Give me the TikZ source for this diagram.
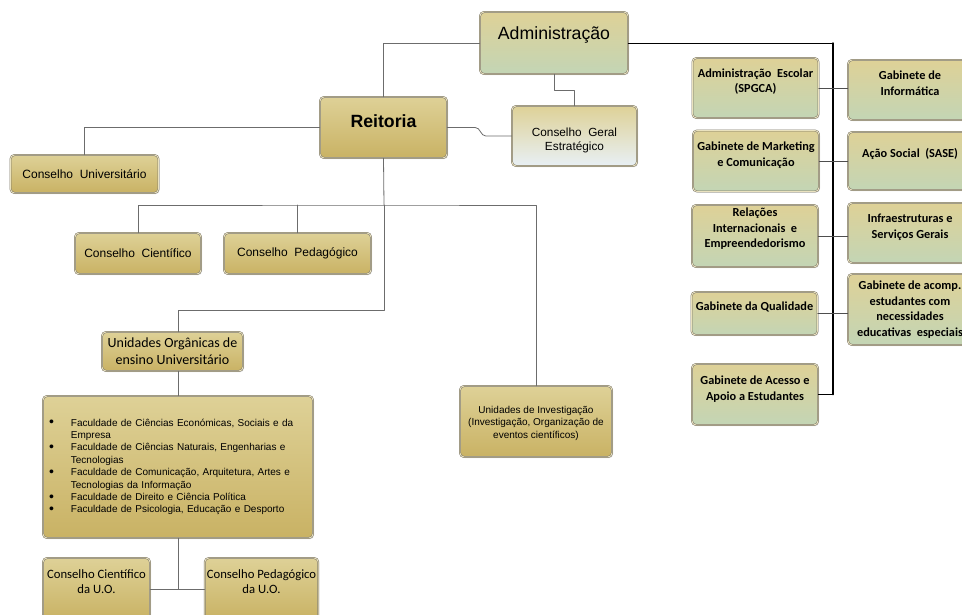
\documentclass[tikz,border=0pt]{standalone}
\usepackage{fontspec}
\setmainfont{Liberation Sans}
\newfontfamily\carlito{Carlito}
\usetikzlibrary{calc, positioning, shadows}

\definecolor{tantop}{HTML}{DED197}
\definecolor{tanbot}{HTML}{C9B264}
\definecolor{greenbot}{HTML}{C3D5B5}
\definecolor{bluebot}{HTML}{E8F0F5}
\definecolor{boxedge}{HTML}{7C7767}
\definecolor{boxgap}{HTML}{EAE2BF}
\definecolor{linkgray}{HTML}{6C6C6C}
\definecolor{servgray}{HTML}{4E4E4E}
\newcommand{\dotitem}{\raisebox{-0.8pt}{\fontsize{14}{12}\selectfont\textbullet}}

\begin{document}
\begin{tikzpicture}[line cap=round, line join=round, x=1pt, y=-1pt,
  orgbox/.style={rounded corners=4pt, draw=boxedge, double=boxgap, double distance=0.9pt,
    line width=0.5pt, top color=tantop, bottom color=tanbot, inner sep=2pt, align=center,
    drop shadow={shadow xshift=1pt, shadow yshift=-1.2pt, opacity=0.25}},
  adminbox/.style={orgbox, bottom color=greenbot},
  geralbox/.style={orgbox, bottom color=bluebot},
  servbox/.style={adminbox, minimum width=126, font=\carlito\bfseries\fontsize{12.3}{15.5}\selectfont},
  link/.style={draw=linkgray, line width=0.8pt},
  servlink/.style={draw=servgray, line width=0.9pt},
  adminlink/.style={draw=black, line width=1pt}]
\useasboundingbox (0,0) rectangle (962,614);

% Top of the chart
\node[adminbox, minimum width=148, minimum height=62, text depth=20pt,
  font=\fontsize{17.7}{20}\selectfont] (admin) at (554,43) {Administração};
\node[orgbox, minimum width=127, minimum height=61, text depth=12pt,
  font=\bfseries\fontsize{17.7}{20}\selectfont] (reitoria) at (383.5,127.5) {Reitoria};
\node[geralbox, minimum width=125, minimum height=60, text height=31pt,
  font=\fontsize{11.8}{14}\selectfont] (geral) at (574.5,136) {Conselho\ \ Geral\\Estratégico};

% Councils
\node[orgbox, minimum width=148, minimum height=38, font=\fontsize{12}{14}\selectfont]
  (univ) at (84.5,174) {Conselho\ \ Universitário};
\node[orgbox, minimum width=126, minimum height=41, font=\fontsize{12}{14}\selectfont]
  (cient) at (138,253.5) {Conselho\ \ Científico};
\node[orgbox, minimum width=147, minimum height=41, font=\fontsize{12}{14}\selectfont]
  (pedag) at (297.5,253.5) {Conselho\ \ Pedagógico};

% Teaching units
\node[orgbox, minimum width=141, minimum height=39, font=\carlito\fontsize{14}{17}\selectfont]
  (organicas) at (172.5,351.5) {Unidades Orgânicas de\\ensino Universitário};
\node[orgbox, minimum width=270, minimum height=142, text width=258, align=left,
  font=\fontsize{10}{12.4}\selectfont] (faculdades) at (178,467) {%
  \begin{tabular}{@{}l@{\hspace{17pt}}l@{}}
  \dotitem & Faculdade de Ciências Económicas, Sociais e da\\
           & Empresa\\
  \dotitem & Faculdade de Ciências Naturais, Engenharias e\\
           & Tecnologias\\
  \dotitem & Faculdade de Comunicação,\ Arquitetura, Artes e\\
           & Tecnologias da Informação\\
  \dotitem & Faculdade de Direito e Ciência Política\\
  \dotitem & Faculdade de Psicologia, Educação e Desporto
  \end{tabular}};
\node[orgbox, minimum width=107, minimum height=62, text depth=14pt,
  font=\carlito\fontsize{12.7}{15}\selectfont] (cientuo) at (96.5,589) {Conselho Científico\\da U.O.};
\node[orgbox, minimum width=112, minimum height=62, text depth=14pt,
  font=\carlito\fontsize{12.7}{15}\selectfont] (pedaguo) at (261.5,589) {Conselho Pedagógico\\da U.O.};
\node[orgbox, minimum width=152, minimum height=71, text height=36pt, font=\fontsize{10}{12.5}\selectfont]
  (investig) at (536,421.5) {Unidades de Investigação\\(Investigação, Organização de\\eventos científicos)};

% Services
\node[servbox, minimum height=60, text depth=15pt] (spgca) at (755.5,88) {Administração\ \ Escolar\\(SPGCA)};
\node[servbox, minimum height=61, text depth=14pt] (marketing) at (756,161) {Gabinete de Marketing\\e Comunicação};
\node[servbox, minimum height=62, text depth=16pt] (relacoes) at (755,236) {Relações\\Internacionais\ \ e\\Empreendedorismo};
\node[servbox, minimum height=43, text depth=15pt] (qualidade) at (754.5,313.5) {Gabinete da Qualidade};
\node[servbox, minimum height=61, text depth=13pt] (acesso) at (755,394.5) {Gabinete de Acesso e\\Apoio a Estudantes};
\node[servbox, minimum width=124, minimum height=60, text depth=14pt] (informatica) at (910,90) {Gabinete de\\Informática};
\node[servbox, minimum width=124, minimum height=58, text depth=17pt] (acao) at (910,161) {Ação Social\ \ (SASE)};
\node[servbox, minimum width=124, minimum height=60, text depth=14pt] (infra) at (910,233) {Infraestruturas e\\Serviços Gerais};
\node[servbox, minimum width=124, minimum height=71] (acomp) at (910,309.5) {Gabinete de acomp.\\estudantes com\\necessidades\\educativas\ \ especiais};

% Connectors
\coordinate (hub) at (384,205);
\coordinate (elbow) at (384,310);
\coordinate (bus) at (833,43);
\draw[link] (admin.west) -| (reitoria.north);
\draw[link] (admin.south) -- ++(0,16) -| (geral.north);
\draw[link] (reitoria.east) -- ++(28,0) to[out=0,in=180] ($(geral.west)+(-26,0)$) -- (geral.west);
\draw[link] (reitoria.west) -| (univ.north);
\draw[link] (reitoria.south) -- (hub);
\draw[link] (cient.north) |- (hub) -| (investig.north);
\draw[link] (pedag.north) -- (pedag.north |- hub);
\draw[link] (hub) -- (elbow) -| (faculdades.north |- organicas.north);
\draw[link] (organicas.south -| faculdades.north) -- (faculdades.north);
\draw[link] (faculdades.south) -- (faculdades.south |- cientuo.east);
\draw[link] (cientuo.east) -- (pedaguo.west);

\draw[adminlink] (admin.east) -- (bus);
\draw[adminlink, line width=1.5pt] (bus) -- (bus |- acesso.east);
\draw[adminlink] (acesso.east) -- (bus |- acesso.east);
\foreach \srcnode/\dstnode in {spgca/informatica, marketing/acao, relacoes/infra, qualidade/acomp}
  \draw[servlink] (\srcnode.east) -- (\dstnode.west |- \srcnode.east);
\end{tikzpicture}
\end{document}
